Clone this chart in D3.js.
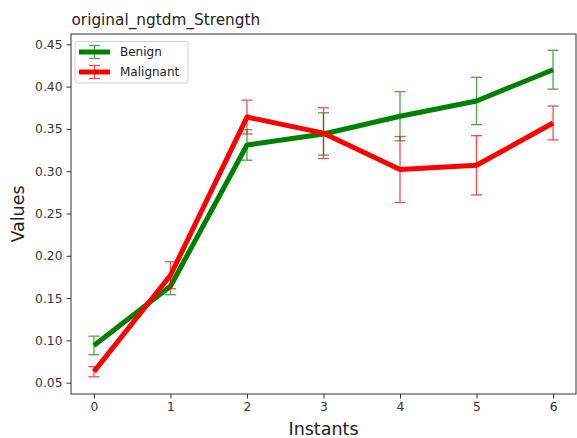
<!DOCTYPE html>
<html>
<head>
<meta charset="utf-8">
<script src="https://cdn.jsdelivr.net/npm/d3@7"></script>
<style>
  html, body { margin: 0; padding: 0; background: #fff; }
  svg { display: block; font-family: "DejaVu Sans", sans-serif; }
</style>
</head>
<body>
<svg id="chart" width="577" height="438"></svg>
<script>
const title = "original_ngtdm_Strength";
const instants = [0, 1, 2, 3, 4, 5, 6];
const benignMean = [0.094, 0.164, 0.331, 0.344, 0.365, 0.383, 0.420];
const benignErr  = [0.011, 0.010, 0.018, 0.025, 0.029, 0.028, 0.023];
const malignantMean = [0.063, 0.177, 0.364, 0.345, 0.302, 0.307, 0.357];
const malignantErr  = [0.006, 0.016, 0.020, 0.030, 0.039, 0.035, 0.020];
const xTicks = [0, 1, 2, 3, 4, 5, 6];
const yTicks = [0.05, 0.10, 0.15, 0.20, 0.25, 0.30, 0.35, 0.40, 0.45];

const series = [
  { name: "Benign", color: "green", mean: benignMean, err: benignErr },
  { name: "Malignant", color: "red", mean: malignantMean, err: malignantErr }
];

const svg = d3.select("#chart");
const mLeft = 71, mRight = 576, mTop = 34, mBottom = 394;

const x = d3.scaleLinear().domain([-0.3, 6.3]).range([mLeft, mRight]);
const y = d3.scaleLinear().domain([0.0366, 0.4622]).range([mBottom, mTop]);

// axes
const xAxis = d3.axisBottom(x).tickValues(xTicks).tickFormat(d3.format("d")).tickSize(4.5).tickPadding(4);
const yAxis = d3.axisLeft(y).tickValues(yTicks).tickFormat(d3.format(".2f")).tickSize(4.5).tickPadding(4);

const gx = svg.append("g").attr("transform", `translate(0,${mBottom})`).call(xAxis);
const gy = svg.append("g").attr("transform", `translate(${mLeft},0)`).call(yAxis);
[gx, gy].forEach(g => {
  g.select(".domain").remove();
  g.selectAll(".tick line").attr("stroke", "#333").attr("stroke-width", 1);
  g.selectAll(".tick text").attr("fill", "#333").style("font-size", "12.3px").style("font-family", "DejaVu Sans");
});

// frame
svg.append("rect")
  .attr("x", mLeft).attr("y", mTop)
  .attr("width", mRight - mLeft).attr("height", mBottom - mTop)
  .attr("fill", "none").attr("stroke", "#333").attr("stroke-width", 1);

const plot = svg.append("g");
const capHalf = 5.5;

series.forEach(s => {
  const g = plot.append("g");
  const line = d3.line().x((d, i) => x(instants[i])).y(d => y(d));
  g.append("path")
    .datum(s.mean)
    .attr("d", line)
    .attr("fill", "none")
    .attr("stroke", s.color)
    .attr("stroke-width", 5)
    .attr("stroke-linejoin", "round");
  const eb = g.append("g").attr("stroke", s.color).attr("stroke-width", 1.3).attr("opacity", 0.7);
  instants.forEach((t, i) => {
    const cx = x(t), y1 = y(s.mean[i] - s.err[i]), y2 = y(s.mean[i] + s.err[i]);
    eb.append("line").attr("x1", cx).attr("x2", cx).attr("y1", y1).attr("y2", y2);
    eb.append("line").attr("x1", cx - capHalf).attr("x2", cx + capHalf).attr("y1", y1).attr("y2", y1);
    eb.append("line").attr("x1", cx - capHalf).attr("x2", cx + capHalf).attr("y1", y2).attr("y2", y2);
  });
});

// legend
const lg = svg.append("g");
lg.append("rect")
  .attr("x", 75).attr("y", 41.5).attr("width", 113).attr("height", 41.5)
  .attr("rx", 2.5).attr("fill", "#fff").attr("fill-opacity", 0.8)
  .attr("stroke", "#d0d0d0").attr("stroke-width", 1);
series.forEach((s, i) => {
  const cy = 52 + i * 20;
  const g = lg.append("g");
  g.append("line").attr("x1", 79).attr("x2", 110).attr("y1", cy).attr("y2", cy)
    .attr("stroke", s.color).attr("stroke-width", 5);
  const eb = g.append("g").attr("stroke", s.color).attr("stroke-width", 1.3).attr("opacity", 0.7);
  eb.append("line").attr("x1", 94.5).attr("x2", 94.5).attr("y1", cy - 6.5).attr("y2", cy + 6.5);
  eb.append("line").attr("x1", 89).attr("x2", 100).attr("y1", cy - 6.5).attr("y2", cy - 6.5);
  eb.append("line").attr("x1", 89).attr("x2", 100).attr("y1", cy + 6.5).attr("y2", cy + 6.5);
  g.append("text").attr("x", 120).attr("y", cy).attr("dy", "0.35em")
    .attr("fill", "#222").style("font-size", "12px").text(s.name);
});

// title and labels
svg.append("text").attr("x", mLeft + 0.5).attr("y", 25)
  .attr("fill", "#222").style("font-size", "15.3px").text(title);
svg.append("text").attr("x", (mLeft + mRight) / 2).attr("y", 434.5)
  .attr("text-anchor", "middle").attr("fill", "#222").style("font-size", "17.5px").text("Instants");
svg.append("text")
  .attr("transform", `translate(24,${(mTop + mBottom) / 2}) rotate(-90)`)
  .attr("text-anchor", "middle").attr("fill", "#222").style("font-size", "17.5px").text("Values");
</script>
</body>
</html>
